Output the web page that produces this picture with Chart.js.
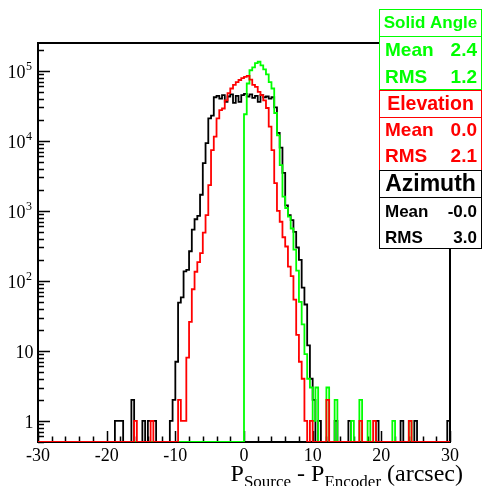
<!DOCTYPE html>
<html>
<head>
<meta charset="utf-8">
<script src="https://cdn.jsdelivr.net/npm/chart.js@4.4.0/dist/chart.umd.min.js"></script>
<style>
  html, body { margin: 0; padding: 0; background: #fff; }
  #wrap { width: 483px; height: 486px; }
</style>
</head>
<body>
<div id="wrap"><canvas id="c" width="483" height="486"></canvas></div>
<script>
// 150 bins of 0.4 arcsec between -30 and 30
const X_MIN = -30, X_MAX = 30, BIN_W = 0.4;
const Y_MIN = 0.5, Y_MAX = 2.5e5;

const xTickLabels = [-30, -20, -10, 0, 10, 20, 30];
const yTickValues = [1, 10, 100, 1000, 10000, 100000];
const yTickExp = [null, null, 2, 3, 4, 5];

// bin counts
const azimuth = [
  0, 0, 0, 0, 0, 0, 0, 0, 0, 0,
  0, 0, 0, 0, 0, 0, 0, 0, 0, 0,
  0, 0, 0, 0, 0, 0, 0, 0, 1, 1,
  1, 0, 0, 0, 2, 0, 0, 0, 1, 0,
  1, 1, 1, 0, 0, 0, 0, 0, 1, 2,
  7, 49, 58, 137, 144, 265, 540, 760, 850, 1700,
  4800, 9300, 21000, 23000, 42000, 44000, 40000, 45000, 36000, 43000,
  46000, 35000, 44000, 36000, 45000, 47000, 43000, 46000, 41000, 44000,
  36000, 45000, 42000, 43000, 40000, 42000, 30000, 13000, 8000, 3500,
  1200, 870, 740, 500, 300, 200, 80, 46, 12, 4,
  2, 0, 1, 0, 0, 0, 0, 0, 1, 0,
  0, 0, 0, 1, 0, 0, 0, 0, 0, 0,
  0, 0, 0, 1, 0, 0, 0, 0, 0, 0,
  0, 0, 1, 0, 0, 0, 0, 1, 0, 0,
  0, 0, 0, 0, 0, 0, 0, 0, 0, 1
];
const elevation = [
  0, 0, 0, 0, 0, 0, 0, 0, 0, 0,
  0, 0, 0, 0, 0, 0, 0, 0, 0, 0,
  0, 0, 0, 0, 0, 0, 0, 0, 0, 0,
  0, 0, 0, 0, 0, 1, 0, 0, 0, 0,
  0, 1, 0, 0, 0, 0, 0, 0, 0, 0,
  0, 2, 1, 1, 8, 26, 76, 135, 186, 250,
  490, 870, 2340, 7400, 11500, 21000, 27500, 29000, 38000, 48000,
  56000, 63000, 69000, 74000, 79000, 82000, 85000, 75000, 63000, 59000,
  50000, 45000, 38000, 29500, 16000, 7400, 2500, 1000, 700, 420,
  310, 160, 117, 54, 17, 7, 4, 1, 0, 1,
  0, 0, 0, 0, 0, 2, 0, 0, 0, 0,
  0, 0, 0, 0, 0, 0, 0, 1, 0, 0,
  0, 0, 1, 0, 0, 0, 0, 0, 0, 0,
  0, 0, 0, 0, 0, 1, 0, 0, 0, 0,
  0, 0, 0, 0, 0, 0, 0, 0, 0, 0
];
const solidAngle = [
  0, 0, 0, 0, 0, 0, 0, 0, 0, 0,
  0, 0, 0, 0, 0, 0, 0, 0, 0, 0,
  0, 0, 0, 0, 0, 0, 0, 0, 0, 0,
  0, 0, 0, 0, 0, 0, 0, 0, 0, 0,
  0, 0, 0, 0, 0, 0, 0, 0, 0, 0,
  0, 0, 0, 0, 0, 0, 0, 0, 0, 0,
  0, 0, 0, 0, 0, 0, 0, 0, 0, 0,
  0, 0, 0, 0, 0, 24000, 66000, 102000, 112000, 129000,
  135000, 120000, 105000, 89000, 69000, 56000, 25000, 12000, 4500, 1600,
  1100, 830, 560, 280, 140, 50, 24, 9, 4, 3,
  1, 3, 0, 0, 0, 3, 0, 0, 2, 0,
  0, 0, 0, 0, 1, 0, 0, 2, 0, 0,
  1, 0, 0, 0, 0, 0, 0, 0, 0, 1,
  0, 0, 0, 0, 0, 1, 0, 0, 0, 0,
  0, 0, 0, 0, 0, 0, 0, 0, 0, 0
];

const statNames = ['Solid Angle', 'Elevation', 'Azimuth'];
const statMeans = ['2.4', '0.0', '-0.0'];
const statRMS = ['1.2', '2.1', '3.0'];

// turn bin counts into step points (left edges + closing edge); empty bins sit on the frame bottom
function toSteps(counts) {
  const pts = counts.map((c, i) => ({ x: X_MIN + i * BIN_W, y: c > 0 ? c : Y_MIN }));
  pts.push({ x: X_MAX, y: pts[pts.length - 1].y });
  return pts;
}

const SERIF = '"Liberation Serif", "DejaVu Serif", serif';
const SANS = '"Liberation Sans", Arial, sans-serif';

// frame, inner ticks and axis labels in ROOT style
const axesPlugin = {
  id: 'rootAxes',
  beforeDatasetsDraw(chart) {
    const { ctx, chartArea: a } = chart;
    const xs = chart.scales.x, ys = chart.scales.y;
    ctx.save();
    ctx.strokeStyle = '#000';
    ctx.lineWidth = 2;
    ctx.strokeRect(a.left, a.top, a.right - a.left, a.bottom - a.top);

    ctx.lineWidth = 1.5;
    ctx.beginPath();
    for (let v = X_MIN; v <= X_MAX; v += 2) {
      const px = Math.round(xs.getPixelForValue(v)) + 0.5;
      const len = (v % 10 === 0) ? 11 : 5.5;
      ctx.moveTo(px, a.bottom);
      ctx.lineTo(px, a.bottom - len);
    }
    for (let d = 0.1; d <= 1e5; d *= 10) {
      for (let k = 1; k <= 9; k++) {
        const v = k * d;
        if (v < Y_MIN || v > Y_MAX) continue;
        const py = Math.round(ys.getPixelForValue(v)) + 0.5;
        const len = k === 1 ? 12 : 6;
        ctx.moveTo(a.left, py);
        ctx.lineTo(a.left + len, py);
      }
    }
    ctx.stroke();

    ctx.fillStyle = '#000';
    ctx.font = '18px ' + SERIF;
    ctx.textAlign = 'center';
    ctx.textBaseline = 'alphabetic';
    xTickLabels.forEach(v => {
      ctx.fillText(String(v), xs.getPixelForValue(v), 461);
    });

    yTickValues.forEach((v, i) => {
      const py = ys.getPixelForValue(v);
      const e = yTickExp[i];
      ctx.textBaseline = 'middle';
      if (e === null) {
        ctx.font = '18px ' + SERIF;
        ctx.textAlign = 'right';
        ctx.fillText(String(v), 33.5, py + 2);
      } else {
        ctx.font = '18px ' + SERIF;
        ctx.textAlign = 'right';
        ctx.fillText('10', 25.5, py + 2);
        ctx.font = '12px ' + SERIF;
        ctx.textAlign = 'left';
        ctx.fillText(String(e), 26, py - 4);
      }
    });

    // x title with subscripts, right aligned
    const parts = [
      { t: 'P', f: 24, dy: 0 },
      { t: 'Source', f: 17, dy: 6 },
      { t: ' - P', f: 24, dy: 0 },
      { t: 'Encoder', f: 17, dy: 6 },
      { t: ' (arcsec)', f: 24, dy: 0 }
    ];
    let w = 0;
    parts.forEach(p => { ctx.font = p.f + 'px ' + SERIF; p.w = ctx.measureText(p.t).width; w += p.w; });
    let x0 = 463 - w;
    ctx.textAlign = 'left';
    ctx.textBaseline = 'alphabetic';
    parts.forEach(p => {
      ctx.font = p.f + 'px ' + SERIF;
      ctx.fillText(p.t, x0, 481 + p.dy);
      x0 += p.w;
    });
    ctx.restore();
  },
  afterDraw(chart) {
    const { ctx } = chart;
    const boxes = [
      { color: '#00ff00', top: 9.5, sep: 36.5, bottom: 89.5, ty: 23, tf: 17, rf: 19, ry: [50.5, 77.5] },
      { color: '#ff0000', top: 90.5, sep: 117.5, bottom: 170.5, ty: 105, tf: 19.5, rf: 19, ry: [131, 157] },
      { color: '#000000', top: 170.5, sep: 197.5, bottom: 248.5, ty: 184.5, tf: 23, rf: 17, ry: [212.5, 238.5] }
    ];
    const L = 379.5, R = 481.5;
    ctx.save();
    boxes.forEach((b, i) => {
      ctx.fillStyle = '#fff';
      ctx.fillRect(L, b.top, R - L, b.bottom - b.top);
      ctx.strokeStyle = b.color;
      ctx.lineWidth = 1;
      ctx.strokeRect(L, b.top, R - L, b.bottom - b.top);
      ctx.beginPath();
      ctx.moveTo(L, b.sep);
      ctx.lineTo(R, b.sep);
      ctx.stroke();

      ctx.fillStyle = b.color;
      ctx.textBaseline = 'middle';
      ctx.font = 'bold ' + b.tf + 'px ' + SANS;
      ctx.textAlign = 'center';
      ctx.fillText(statNames[i], (L + R) / 2, b.ty);

      ctx.font = 'bold ' + b.rf + 'px ' + SANS;
      ctx.textAlign = 'left';
      ctx.fillText('Mean', 385, b.ry[0]);
      ctx.fillText('RMS', 385, b.ry[1]);
      ctx.textAlign = 'right';
      ctx.fillText(statMeans[i], 477, b.ry[0]);
      ctx.fillText(statRMS[i], 477, b.ry[1]);
    });
    ctx.restore();
  }
};

new Chart(document.getElementById('c'), {
  type: 'line',
  data: {
    datasets: [
      { label: 'Elevation', data: toSteps(elevation), borderColor: '#ff0000', order: 0 },
      { label: 'Solid Angle', data: toSteps(solidAngle), borderColor: '#00ff00', order: 1 },
      { label: 'Azimuth', data: toSteps(azimuth), borderColor: '#000000', order: 2 }
    ]
  },
  options: {
    responsive: false,
    animation: false,
    events: [],
    layout: { padding: { left: 38, right: 33, top: 43, bottom: 44 } },
    elements: {
      line: { borderWidth: 1.8, stepped: 'before', tension: 0, fill: false },
      point: { radius: 0 }
    },
    scales: {
      x: { type: 'linear', min: X_MIN, max: X_MAX, display: false },
      y: { type: 'logarithmic', min: Y_MIN, max: Y_MAX, display: false }
    },
    plugins: { legend: { display: false }, tooltip: { enabled: false } }
  },
  plugins: [axesPlugin]
});
</script>
</body>
</html>
